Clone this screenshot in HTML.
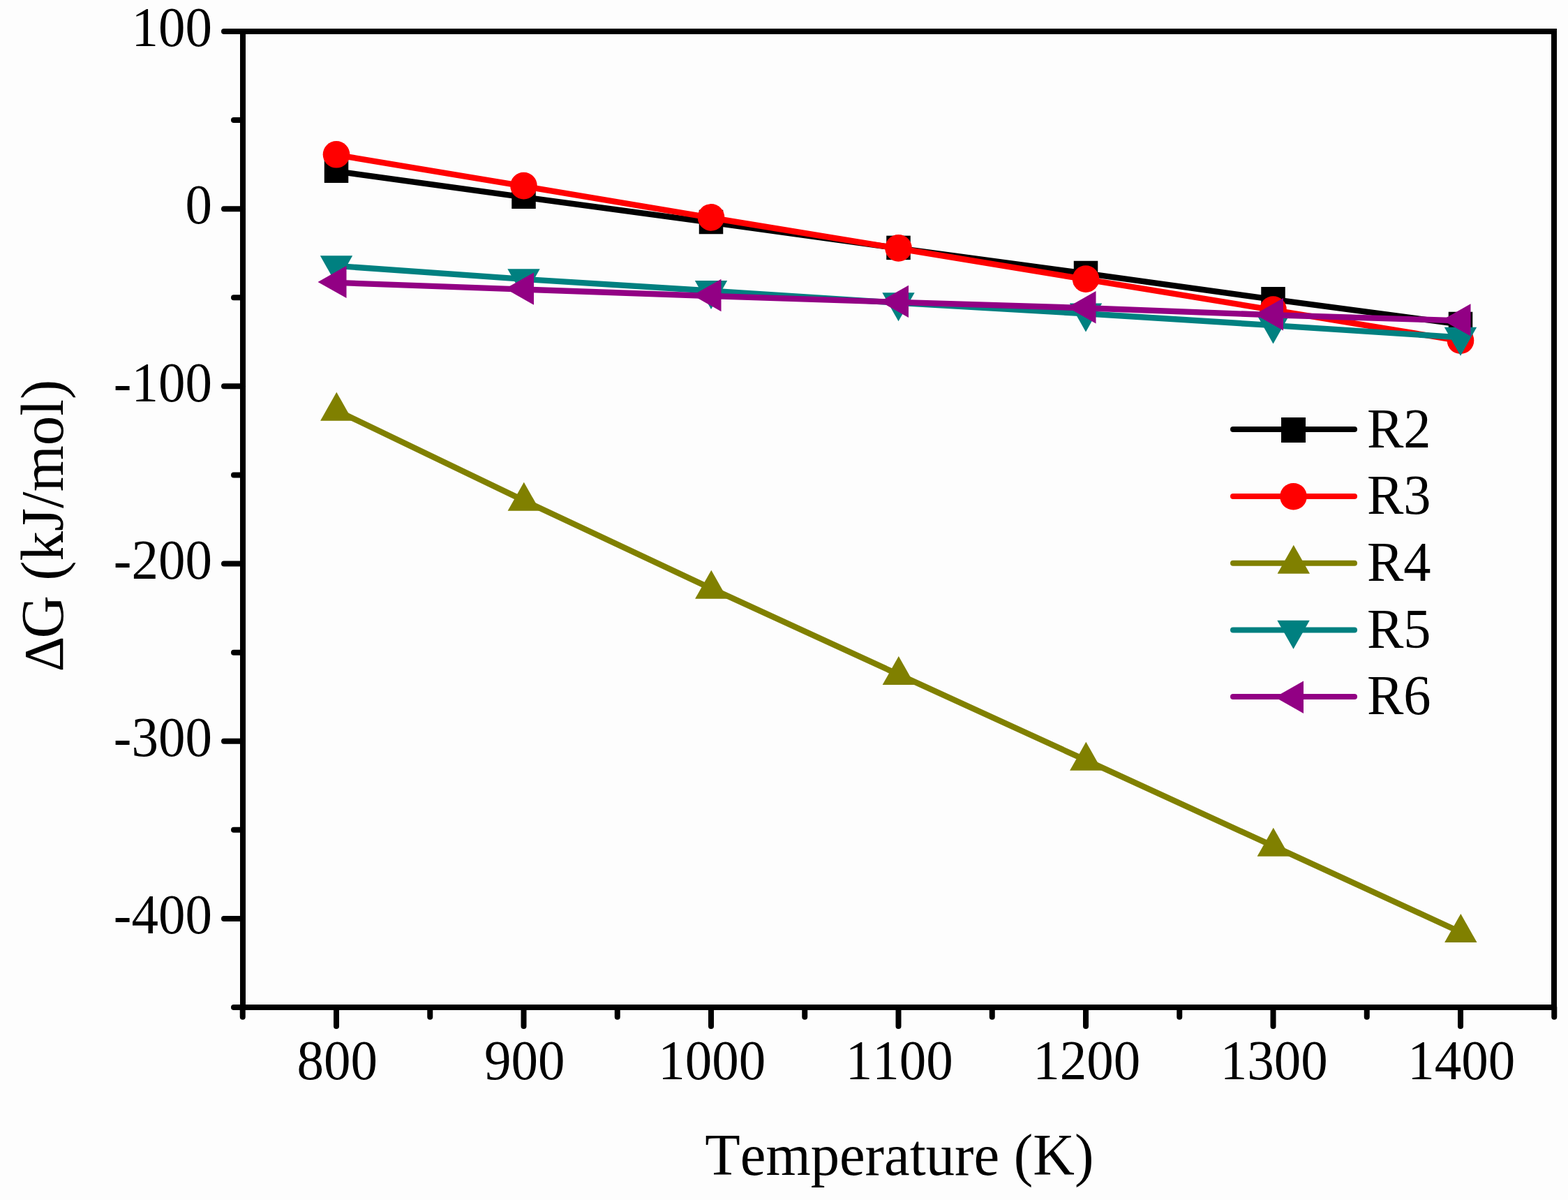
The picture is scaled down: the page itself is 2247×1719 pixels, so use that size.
<!DOCTYPE html>
<html lang="en"><head><meta charset="utf-8"><title>ΔG vs Temperature</title>
<style>
html,body{margin:0;padding:0;background:#fdfdfd;}
body{width:2247px;height:1719px;overflow:hidden;}
svg{display:block;}
text{font-family:"Liberation Serif", "DejaVu Serif", serif;fill:#000;font-kerning:none;font-variant-ligatures:none;}
.tk{font-size:77px;}
.ti{font-size:82.6px;}
.yt{font-size:85px;}
.lg{font-size:78.5px;}
</style></head><body>
<svg width="2247" height="1719" viewBox="0 0 2247 1719">
<rect width="2247" height="1719" fill="#fdfdfd"/>
<g><polyline points="482.00,245.40 750.50,282.45 1019.00,318.70 1287.50,355.60 1556.00,391.70 1824.50,428.95 2093.00,464.70" fill="none" stroke="#000000" stroke-width="8.4" stroke-linejoin="round"/><rect x="464.75" y="227.45" width="34.5" height="34.5" fill="#000000"/><rect x="733.25" y="264.50" width="34.5" height="34.5" fill="#000000"/><rect x="1001.75" y="300.75" width="34.5" height="34.5" fill="#000000"/><rect x="1270.25" y="337.65" width="34.5" height="34.5" fill="#000000"/><rect x="1538.75" y="373.75" width="34.5" height="34.5" fill="#000000"/><rect x="1807.25" y="411.00" width="34.5" height="34.5" fill="#000000"/><rect x="2075.75" y="446.75" width="34.5" height="34.5" fill="#000000"/></g>
<g><polyline points="482.00,221.90 750.50,266.70 1019.00,312.00 1287.50,356.00 1556.00,400.20 1824.50,444.10 2093.00,488.35" fill="none" stroke="#ff0000" stroke-width="8.4" stroke-linejoin="round"/><circle cx="482.00" cy="221.30" r="19.3" fill="#ff0000"/><circle cx="750.50" cy="266.10" r="19.3" fill="#ff0000"/><circle cx="1019.00" cy="311.40" r="19.3" fill="#ff0000"/><circle cx="1287.50" cy="355.40" r="19.3" fill="#ff0000"/><circle cx="1556.00" cy="399.60" r="19.3" fill="#ff0000"/><circle cx="1824.50" cy="443.50" r="19.3" fill="#ff0000"/><circle cx="2093.00" cy="487.75" r="19.3" fill="#ff0000"/></g>
<g><polyline points="482.00,587.90 750.50,716.90 1019.00,842.90 1287.50,966.10 1556.00,1088.90 1824.50,1211.90 2093.00,1335.20" fill="none" stroke="#808000" stroke-width="8.4" stroke-linejoin="round"/><polygon points="482.30,561.80 505.50,602.80 459.10,602.80" fill="#808000"/><polygon points="750.80,690.80 774.00,731.80 727.60,731.80" fill="#808000"/><polygon points="1019.30,816.80 1042.50,857.80 996.10,857.80" fill="#808000"/><polygon points="1287.80,940.00 1311.00,981.00 1264.60,981.00" fill="#808000"/><polygon points="1556.30,1062.80 1579.50,1103.80 1533.10,1103.80" fill="#808000"/><polygon points="1824.80,1185.80 1848.00,1226.80 1801.60,1226.80" fill="#808000"/><polygon points="2093.30,1309.10 2116.50,1350.10 2070.10,1350.10" fill="#808000"/></g>
<g><polyline points="482.00,380.90 750.50,399.90 1019.00,416.60 1287.50,433.90 1556.00,449.30 1824.50,466.10 2093.00,483.40" fill="none" stroke="#008080" stroke-width="8.4" stroke-linejoin="round"/><polygon points="482.00,407.20 505.20,366.20 458.80,366.20" fill="#008080"/><polygon points="750.50,426.20 773.70,385.20 727.30,385.20" fill="#008080"/><polygon points="1019.00,442.90 1042.20,401.90 995.80,401.90" fill="#008080"/><polygon points="1287.50,460.20 1310.70,419.20 1264.30,419.20" fill="#008080"/><polygon points="1556.00,475.60 1579.20,434.60 1532.80,434.60" fill="#008080"/><polygon points="1824.50,492.40 1847.70,451.40 1801.30,451.40" fill="#008080"/><polygon points="2093.00,509.70 2116.20,468.70 2069.80,468.70" fill="#008080"/></g>
<g><polyline points="482.00,404.90 750.50,414.60 1019.00,424.00 1287.50,432.90 1556.00,441.25 1824.50,451.25 2093.00,459.40" fill="none" stroke="#920084" stroke-width="8.4" stroke-linejoin="round"/><polygon points="455.50,403.90 496.50,380.70 496.50,427.10" fill="#920084"/><polygon points="724.00,413.60 765.00,390.40 765.00,436.80" fill="#920084"/><polygon points="992.50,423.00 1033.50,399.80 1033.50,446.20" fill="#920084"/><polygon points="1261.00,431.90 1302.00,408.70 1302.00,455.10" fill="#920084"/><polygon points="1529.50,440.25 1570.50,417.05 1570.50,463.45" fill="#920084"/><polygon points="1798.00,450.25 1839.00,427.05 1839.00,473.45" fill="#920084"/><polygon points="2066.50,458.40 2107.50,435.20 2107.50,481.60" fill="#920084"/></g>
<g stroke="#000" stroke-width="8" fill="none" stroke-linecap="round"><rect x="348.0" y="45.0" width="1879.0" height="1398.0" stroke-linejoin="miter"/><line x1="348.0" y1="45.00" x2="321.00" y2="45.00"/><line x1="348.0" y1="172.09" x2="335.00" y2="172.09"/><line x1="348.0" y1="299.18" x2="321.00" y2="299.18"/><line x1="348.0" y1="426.27" x2="335.00" y2="426.27"/><line x1="348.0" y1="553.36" x2="321.00" y2="553.36"/><line x1="348.0" y1="680.45" x2="335.00" y2="680.45"/><line x1="348.0" y1="807.55" x2="321.00" y2="807.55"/><line x1="348.0" y1="934.64" x2="335.00" y2="934.64"/><line x1="348.0" y1="1061.73" x2="321.00" y2="1061.73"/><line x1="348.0" y1="1188.82" x2="335.00" y2="1188.82"/><line x1="348.0" y1="1315.91" x2="321.00" y2="1315.91"/><line x1="348.0" y1="1443.00" x2="335.00" y2="1443.00"/><line x1="347.75" y1="1443.0" x2="347.75" y2="1456.80"/><line x1="482.00" y1="1443.0" x2="482.00" y2="1470.00"/><line x1="616.25" y1="1443.0" x2="616.25" y2="1456.80"/><line x1="750.50" y1="1443.0" x2="750.50" y2="1470.00"/><line x1="884.75" y1="1443.0" x2="884.75" y2="1456.80"/><line x1="1019.00" y1="1443.0" x2="1019.00" y2="1470.00"/><line x1="1153.25" y1="1443.0" x2="1153.25" y2="1456.80"/><line x1="1287.50" y1="1443.0" x2="1287.50" y2="1470.00"/><line x1="1421.75" y1="1443.0" x2="1421.75" y2="1456.80"/><line x1="1556.00" y1="1443.0" x2="1556.00" y2="1470.00"/><line x1="1690.25" y1="1443.0" x2="1690.25" y2="1456.80"/><line x1="1824.50" y1="1443.0" x2="1824.50" y2="1470.00"/><line x1="1958.75" y1="1443.0" x2="1958.75" y2="1456.80"/><line x1="2093.00" y1="1443.0" x2="2093.00" y2="1470.00"/><line x1="2227.25" y1="1443.0" x2="2227.25" y2="1456.80"/></g>
<text class="tk" transform="translate(304,66.20) scale(1,1.05)" text-anchor="end">100</text><text class="tk" transform="translate(304,320.38) scale(1,1.05)" text-anchor="end">0</text><text class="tk" transform="translate(304,574.56) scale(1,1.05)" text-anchor="end">-100</text><text class="tk" transform="translate(304,828.75) scale(1,1.05)" text-anchor="end">-200</text><text class="tk" transform="translate(304,1082.93) scale(1,1.05)" text-anchor="end">-300</text><text class="tk" transform="translate(304,1337.11) scale(1,1.05)" text-anchor="end">-400</text><text class="tk" transform="translate(483.20,1546.3) scale(1,1.05)" text-anchor="middle">800</text><text class="tk" transform="translate(751.70,1546.3) scale(1,1.05)" text-anchor="middle">900</text><text class="tk" transform="translate(1020.20,1546.3) scale(1,1.05)" text-anchor="middle">1000</text><text class="tk" transform="translate(1288.70,1546.3) scale(1,1.05)" text-anchor="middle">1100</text><text class="tk" transform="translate(1557.20,1546.3) scale(1,1.05)" text-anchor="middle">1200</text><text class="tk" transform="translate(1825.70,1546.3) scale(1,1.05)" text-anchor="middle">1300</text><text class="tk" transform="translate(2094.20,1546.3) scale(1,1.05)" text-anchor="middle">1400</text>
<text class="ti" transform="translate(1288.9,1682.6) scale(1,1.028)" text-anchor="middle">Temperature (K)</text><text class="yt" transform="translate(90.2,914.4) rotate(-90) scale(1,1.014)" text-anchor="start"><tspan x="-47.9" font-size="78.6">Δ</tspan><tspan x="0">G (kJ/mol)</tspan></text>
<g><line x1="1767" y1="615" x2="1941" y2="615" stroke="#000000" stroke-width="8" stroke-linecap="round"/><rect x="1836" y="598" width="35" height="36" fill="#000000"/><text class="lg" transform="translate(1959,640.7) scale(1,1.012)">R2</text></g>
<g><line x1="1767" y1="711" x2="1941" y2="711" stroke="#ff0000" stroke-width="8" stroke-linecap="round"/><circle cx="1853.50" cy="711.25" r="19.3" fill="#ff0000"/><text class="lg" transform="translate(1959,735.8) scale(1,1.012)">R3</text></g>
<g><line x1="1767" y1="806.8" x2="1941" y2="806.8" stroke="#808000" stroke-width="8" stroke-linecap="round"/><polygon points="1853.80,780.70 1877.00,821.70 1830.60,821.70" fill="#808000"/><text class="lg" transform="translate(1959,831.5) scale(1,1.012)">R4</text></g>
<g><line x1="1767" y1="902.5" x2="1941" y2="902.5" stroke="#008080" stroke-width="8" stroke-linecap="round"/><polygon points="1853.50,929.70 1876.70,888.70 1830.30,888.70" fill="#008080"/><text class="lg" transform="translate(1959,927.7) scale(1,1.012)">R5</text></g>
<g><line x1="1767" y1="998" x2="1941" y2="998" stroke="#920084" stroke-width="8" stroke-linecap="round"/><polygon points="1827.00,998.75 1868.00,975.55 1868.00,1021.95" fill="#920084"/><text class="lg" transform="translate(1959,1023.3) scale(1,1.012)">R6</text></g>
</svg>
</body></html>
